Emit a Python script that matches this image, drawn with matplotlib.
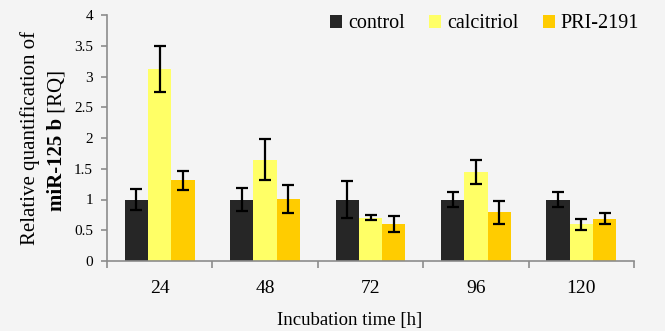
import numpy as np
import matplotlib.pyplot as plt

plt.rcParams['font.family'] = ['Liberation Serif', 'DejaVu Serif']

# data
times = ['24', '48', '72', '96', '120']
series = ['control', 'calcitriol', 'PRI-2191']
control = [1.0, 1.0, 1.0, 1.0, 1.0]
control_err = [0.17, 0.18, 0.30, 0.13, 0.12]
calcitriol = [3.12, 1.65, 0.70, 1.45, 0.60]
calcitriol_err = [0.37, 0.33, 0.04, 0.20, 0.09]
pri2191 = [1.31, 1.01, 0.60, 0.79, 0.69]
pri2191_err = [0.16, 0.23, 0.13, 0.19, 0.085]
colors = ['#262626', '#ffff66', '#ffcc00']
yticks = [0, 0.5, 1, 1.5, 2, 2.5, 3, 3.5, 4]

fig = plt.figure(figsize=(6.65, 3.31), dpi=100, facecolor='#f4f4f4')
ax = fig.add_axes([107/665, 1-261/331, (634-107)/665, (261-15)/331])
ax.set_facecolor('#f4f4f4')

x = np.arange(len(times))
w = 0.221
vals = [control, calcitriol, pri2191]
errs = [control_err, calcitriol_err, pri2191_err]
for i, (v, e, c, name) in enumerate(zip(vals, errs, colors, series)):
    ax.bar(x + (i - 1) * w, v, width=w, color=c, label=name, zorder=2)
    ax.errorbar(x + (i - 1) * w, v, yerr=e, fmt='none', ecolor='black',
                elinewidth=1.6, capsize=4, capthick=1.6, zorder=3)

ax.set_xlim(-0.5, len(times) - 0.5)
ax.set_ylim(0, 4)
ax.set_yticks(yticks)
ax.set_yticklabels([f'{t:g}' for t in yticks], fontsize=11)
ax.set_xticks(x)
ax.set_xticklabels(times, fontsize=14)
ax.set_xticks(np.arange(len(times) + 1) - 0.5, minor=True)
ax.tick_params(axis='x', which='major', length=0, pad=14)
ax.tick_params(axis='x', which='minor', length=5, color='#8c8c8c', width=1.2)
ax.tick_params(axis='y', length=4, color='#8c8c8c', width=1.2, pad=6)
for s in ['top', 'right']:
    ax.spines[s].set_visible(False)
for s in ['left', 'bottom']:
    ax.spines[s].set_color('#8c8c8c')
    ax.spines[s].set_linewidth(1.2)

ax.legend(ncol=3, loc='upper right', bbox_to_anchor=(1.025, 1.035), frameon=False,
          fontsize=14.5, handlelength=0.6, handleheight=0.6,
          handletextpad=0.3, columnspacing=1.2, borderaxespad=0)

fig.text(350/665, 1-320/331, 'Incubation time [h]', ha='center', va='center', fontsize=13.5)
fig.text(30/665, 1-138/331, 'Relative quantification of', rotation=90,
         ha='center', va='center', fontsize=15)
t1 = fig.text(57/665, 1-211/331, 'miR-125 b', rotation=90, ha='center',
              va='bottom', fontsize=15, fontweight='bold')
ax.annotate(' [RQ]', xy=(0.5, 1), xycoords=t1, rotation=90, ha='center',
            va='bottom', fontsize=15, annotation_clip=False)

fig.savefig('out.png', dpi=100, facecolor=fig.get_facecolor())
